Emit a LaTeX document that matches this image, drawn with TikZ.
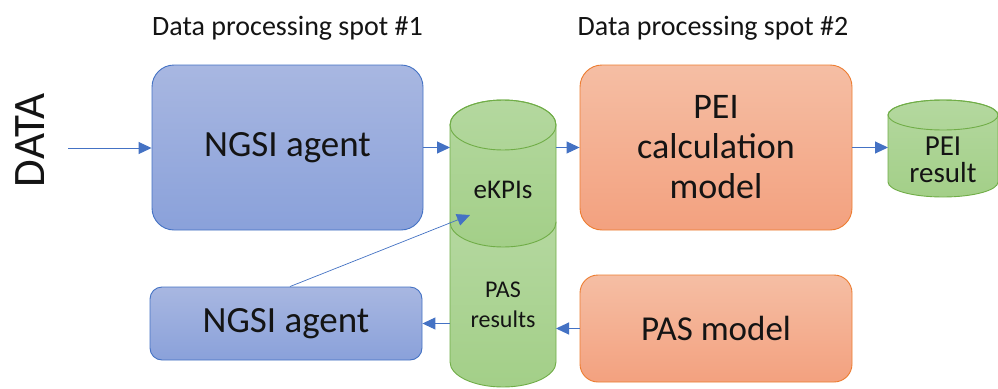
\documentclass[tikz,border=0pt]{standalone}
\usepackage{fontspec}
\setmainfont{Carlito}
\usetikzlibrary{arrows.meta}
\definecolor{flowblue}{HTML}{4472C4}
\definecolor{agenttop}{HTML}{A8B7E1}
\definecolor{agentbot}{HTML}{8AA1DA}
\definecolor{modelline}{HTML}{ED7D31}
\definecolor{modeltop}{HTML}{F5BEA4}
\definecolor{modelbot}{HTML}{F3A17F}
\definecolor{dbline}{HTML}{70AD47}
\definecolor{dbtop}{HTML}{B4D89F}
\definecolor{dbbot}{HTML}{A3CF88}
\definecolor{inktext}{HTML}{141414}
\tikzset{
  agentbox/.style={draw=flowblue, line width=0.9pt, top color=agenttop, bottom color=agentbot,
    rounded corners=22pt, inner sep=0pt, text=inktext, align=center, font=\fontsize{37}{40}\selectfont},
  modelbox/.style={draw=modelline, line width=0.9pt, top color=modeltop, bottom color=modelbot,
    rounded corners=22pt, inner sep=0pt, text=inktext, align=center, font=\fontsize{36}{40}\selectfont},
  dbbody/.style={draw=dbline, line width=0.9pt, top color=dbtop, bottom color=dbbot},
  dbedge/.style={draw=dbline, line width=0.9pt},
  dblabel/.style={text=inktext, align=center, inner sep=0pt},
  anchorbox/.style={inner sep=0pt, outer sep=0pt},
  heading/.style={text=inktext, font=\fontsize{28}{32}\selectfont},
  flow/.style={draw=flowblue, line width=1pt, -{Triangle[length=13pt,width=12pt]}}
}
\begin{document}
\begin{tikzpicture}[x=1pt,y=-1pt]
\useasboundingbox[fill=white] (0,0) rectangle (998,388);

% section headings
\node[heading] (spot1) at (287.5,28) {Data processing spot \#1};
\node[heading] (spot2) at (713,28) {Data processing spot \#2};

% incoming data label
\node[text=inktext, rotate=90, font=\fontsize{45}{50}\selectfont] (data) at (30,140) {DATA};
\coordinate (datain) at (68,148);

% processing boxes
\node[agentbox, minimum width=271pt, minimum height=165pt] (agent1) at (287.5,147.5) {NGSI agent};
\node[agentbox, minimum width=272pt, minimum height=73pt, rounded corners=12pt] (agent2) at (286,323.5) {NGSI agent};
\node[modelbox, minimum width=272pt, minimum height=165pt] (pei) at (716,147.5) {PEI\\calculation\\model};
\node[modelbox, minimum width=272pt, minimum height=107pt, rounded corners=18pt, font=\fontsize{35}{40}\selectfont] (pas) at (716,328.5) {PAS model};

% stacked store: PAS results (lower) under eKPIs (upper)
\path[dbbody] (450,222) -- (450,362) arc[start angle=180, end angle=360, x radius=53pt, y radius=25pt] -- (556,222) -- cycle;
\path[dbbody] (450,125) -- (450,222) arc[start angle=180, end angle=360, x radius=53pt, y radius=25pt]
  -- (556,125) arc[start angle=0, end angle=180, x radius=53pt, y radius=25pt] -- cycle;
\draw[dbedge] (503,125) ellipse[x radius=53pt, y radius=25pt];
\node[anchorbox, minimum width=106pt, minimum height=287pt] (store) at (503,243.5) {};
\node[dblabel, font=\fontsize{27}{30}\selectfont] (ekpi) at (503,190) {eKPIs};
\node[dblabel, font=\fontsize{24}{30}\selectfont] (pasres) at (503,305) {PAS\\results};
\coordinate (ekpitip) at (470,215);

% PEI result store
\path[dbbody] (888,115) -- (888,182) arc[start angle=180, end angle=360, x radius=55pt, y radius=15pt]
  -- (998,115) arc[start angle=0, end angle=180, x radius=55pt, y radius=15pt] -- cycle;
\draw[dbedge] (943,115) ellipse[x radius=55pt, y radius=15pt];
\node[anchorbox, minimum width=110pt, minimum height=97pt] (peires) at (943,148.5) {};
\node[dblabel, font=\fontsize{29}{27}\selectfont] (peireslabel) at (943,160) {PEI\\result};

% connectors
\draw[flow] (datain) -- (datain -| agent1.west);
\draw[flow] (agent1.east) -- (agent1.east -| store.west);
\draw[flow] (store.east |- pei.west) -- (pei.west);
\draw[flow] (pei.east) -- (pei.east -| peires.west);
\draw[flow] (store.west |- agent2.east) -- (agent2.east);
\draw[flow] (pas.west) -- (pas.west -| store.east);
\draw[flow, line width=0.7pt] (agent2.north -| 290,0) -- (ekpitip);
\end{tikzpicture}
\end{document}
